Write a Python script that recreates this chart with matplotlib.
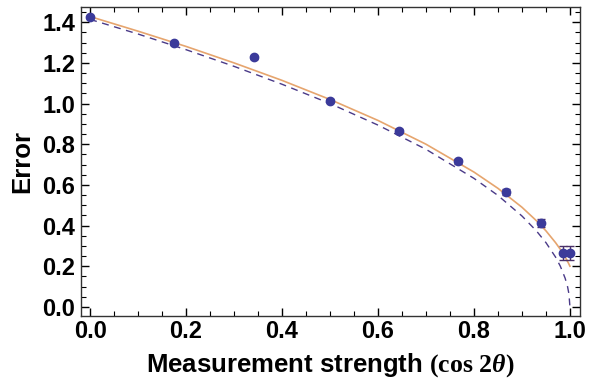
import matplotlib
matplotlib.use("Agg")
import matplotlib.pyplot as plt
from matplotlib.ticker import MultipleLocator

# Data
x_meas = [0.0, 0.174, 0.342, 0.5, 0.643, 0.766, 0.866, 0.940, 0.985, 1.0]
y_meas = [1.425, 1.297, 1.228, 1.015, 0.865, 0.717, 0.565, 0.413, 0.265, 0.265]
y_err = [0.005, 0.008, 0.008, 0.008, 0.01, 0.012, 0.015, 0.02, 0.035, 0.035]

x_curve = [0.0, 0.1, 0.2, 0.3, 0.4, 0.5, 0.6, 0.7, 0.8, 0.85, 0.9, 0.93, 0.95,
           0.97, 0.98, 0.99, 0.995, 0.998, 1.0]
y_ideal = [1.414, 1.342, 1.265, 1.183, 1.095, 1.0, 0.894, 0.775, 0.632, 0.548,
           0.447, 0.374, 0.316, 0.245, 0.2, 0.141, 0.1, 0.063, 0.0]
y_fit = [1.428, 1.356, 1.281, 1.200, 1.114, 1.020, 0.917, 0.800, 0.663, 0.583,
         0.490, 0.424, 0.374, 0.316, 0.283, 0.245, 0.224, 0.210, 0.2]

x_ticks = [0.0, 0.2, 0.4, 0.6, 0.8, 1.0]
y_ticks = [0.0, 0.2, 0.4, 0.6, 0.8, 1.0, 1.2, 1.4]

plt.rcParams['mathtext.fontset'] = 'custom'
plt.rcParams['mathtext.rm'] = 'Liberation Serif:bold'
plt.rcParams['mathtext.it'] = 'Liberation Serif:italic:bold'
plt.rcParams['mathtext.bf'] = 'Liberation Serif:bold'

fig = plt.figure(figsize=(5.9, 3.82), dpi=100)
ax = fig.add_axes([81/590, 66/382, 499/590, 309/382])

ax.plot(x_curve, y_ideal, color='#4a3a88', lw=1.0, ls=(0, (5, 4)), zorder=2)
ax.plot(x_curve, y_fit, color='#e6a56e', lw=1.2, zorder=3)
ax.errorbar(x_meas, y_meas, yerr=y_err, fmt='o', color='#3b3a9a',
            ecolor='#4a3068', elinewidth=1.0, capsize=3, capthick=1.0,
            markersize=6, zorder=4)

ax.set_xlim(-0.019, 1.021)
ax.set_ylim(-0.045, 1.475)
ax.set_xticks(x_ticks)
ax.set_yticks(y_ticks)
ax.set_xticklabels([f"{v:.1f}" for v in x_ticks])
ax.set_yticklabels([f"{v:.1f}" for v in y_ticks])
ax.xaxis.set_minor_locator(MultipleLocator(0.05))
ax.yaxis.set_minor_locator(MultipleLocator(0.05))
ax.tick_params(which='both', direction='in', top=True, right=True,
               labeltop=False, labelright=False)
ax.tick_params(which='major', length=6, width=1.0)
ax.tick_params(which='minor', length=3.5, width=0.8)
for lab in ax.get_xticklabels() + ax.get_yticklabels():
    lab.set_fontfamily('Liberation Sans')
    lab.set_fontweight('bold')
    lab.set_fontsize(17)
ax.tick_params(axis='x', pad=3)
ax.tick_params(axis='y', pad=4)
for s in ax.spines.values():
    s.set_linewidth(1.0)
    s.set_color('#333333')

ax.set_xlabel(r"Measurement strength $(\mathrm{cos}\ 2\theta)$",
              fontfamily='Liberation Sans', fontweight='bold', fontsize=18.5,
              labelpad=6)
ax.set_ylabel("Error", fontfamily='Liberation Sans', fontweight='bold',
              fontsize=18.5, labelpad=6)

fig.savefig("out.png", dpi=100)
